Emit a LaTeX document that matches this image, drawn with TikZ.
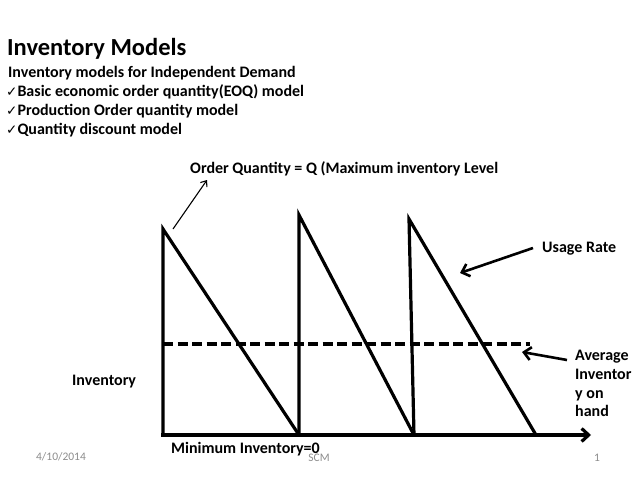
\documentclass[tikz,border=0pt]{standalone}
\usepackage{fontspec}
\setmainfont{Carlito}
\newfontfamily\symfont{DejaVu Sans}
\usetikzlibrary{arrows.meta}
\begin{document}
\begin{tikzpicture}[x=1pt,y=-1pt,
  lbl/.style={font=\bfseries\fontsize{16}{19}\selectfont, inner sep=0pt, anchor=base west},
  foot/.style={font=\fontsize{11.5}{13}\selectfont, text=black!45, inner sep=0pt, anchor=base},
  axis/.style={line width=3.2pt, line join=miter},
  ptr/.style={line width=2.6pt, -{Straight Barb[length=7pt,width=13pt]}},
  thinptr/.style={line width=1.1pt, -{Straight Barb[length=5pt,width=8pt]}}]
\newcommand{\chkmark}{{\symfont\mdseries\fontsize{13.5}{14}\selectfont ✓}}
\useasboundingbox (0,0) rectangle (638,479);
% heading texts
\node[font=\bfseries\fontsize{24.5}{28}\selectfont, inner sep=0pt, anchor=base west] (title) at (7,56) {Inventory Models};
\node[lbl] (sub) at (8,77.5) {Inventory models for Independent Demand};
\node[lbl] (b1) at (6,96) {\chkmark Basic economic order quantity(EOQ) model};
\node[lbl] (b2) at (6,115) {\chkmark Production Order quantity model};
\node[lbl] (b3) at (6,134.5) {\chkmark Quantity discount model};
% graph labels
\node[lbl] (oq) at (190,173.5) {Order Quantity = Q (Maximum inventory Level};
\node[lbl] (usage) at (542,252.5) {Usage Rate};
\node[lbl] (avg1) at (575,360.5) {Average};
\node[lbl] (avg2) at (575,379.5) {Inventor};
\node[lbl] (avg3) at (575,398) {y on};
\node[lbl] (avg4) at (575,416.5) {hand};
\node[lbl] (inv) at (72,385.5) {Inventory};
\node[lbl] (mininv) at (171,453.5) {Minimum Inventory=0};
% footer
\node[foot] (date) at (61,460) {4/10/2014};
\node[foot] (scm) at (319,461) {SCM};
\node[foot] (page) at (597,461) {1};
% sawtooth
\coordinate (O) at (163,435);
\coordinate (P1) at (163,229);
\coordinate (B1) at (299,435);
\coordinate (P2) at (299,215);
\coordinate (B2) at (414,435);
\coordinate (P3) at (409,219);
\coordinate (B3) at (536,435);
\coordinate (X) at (591,435);
\draw[axis] (O) -- (P1) -- (B1);
\draw[axis] (B1) -- (P2) -- (B2);
\draw[axis] (B2) -- (P3) -- (B3);
\draw[axis, line cap=butt, -{Straight Barb[length=7pt,width=13pt]}] ([xshift=-1.6pt]O) -- (X);
% average line
\coordinate (D0) at (163,344);
\coordinate (D1) at (530,344);
\draw[line width=3.2pt, dash pattern=on 10pt off 4.5pt] (D0) -- (D1);
% pointer arrows
\coordinate (oqtail) at (173,229);
\coordinate (oqhead) at (207,180);
\draw[thinptr] (oqtail) -- (oqhead);
\coordinate (utail) at (533,248);
\coordinate (uhead) at (460,273);
\draw[ptr] (utail) -- (uhead);
\coordinate (atail) at (567,360);
\coordinate (ahead) at (522,352);
\draw[ptr] (atail) -- (ahead);
\end{tikzpicture}
\end{document}
